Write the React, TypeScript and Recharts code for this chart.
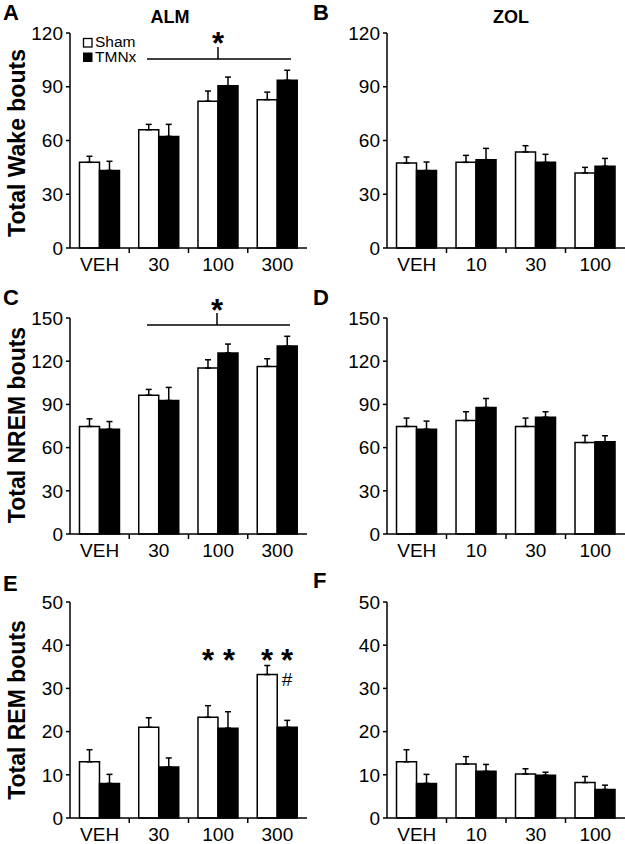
import React from "react";
import { BarChart, Bar, XAxis, YAxis, ErrorBar } from "recharts";

// dose categories
const almDoses = ["VEH", "30", "100", "300"];
const zolDoses = ["VEH", "10", "30", "100"];

// total wake bouts
const wakeAlmSham = [47.8, 66, 81.9, 82.8];
const wakeAlmShamErr = [3.4, 3, 5.7, 4.2];
const wakeAlmTmnx = [43.3, 62.3, 90.6, 93.6];
const wakeAlmTmnxErr = [5.1, 6.7, 4.8, 5.6];
const wakeZolSham = [47.4, 47.8, 53.6, 41.9];
const wakeZolShamErr = [3.4, 3.9, 3.5, 3.1];
const wakeZolTmnx = [43.2, 49.3, 47.8, 45.6];
const wakeZolTmnxErr = [4.8, 6.3, 4.5, 4.4];

// total NREM bouts
const nremAlmSham = [74.7, 96.4, 115.2, 116.4];
const nremAlmShamErr = [5.3, 4, 5.8, 5.3];
const nremAlmTmnx = [72.8, 92.7, 125.7, 130.5];
const nremAlmTmnxErr = [5.3, 9.1, 6.2, 6.8];
const nremZolSham = [74.7, 78.8, 74.7, 63.5];
const nremZolShamErr = [5.8, 6.1, 5.8, 4.9];
const nremZolTmnx = [72.8, 87.9, 81.1, 64];
const nremZolTmnxErr = [5.6, 6.2, 3.8, 4.2];

// total REM bouts
const remAlmSham = [13, 21, 23.3, 33.2];
const remAlmShamErr = [2.8, 2.2, 2.7, 2.1];
const remAlmTmnx = [8, 11.8, 20.8, 21];
const remAlmTmnxErr = [2.1, 2.1, 3.8, 1.6];
const remZolSham = [13, 12.5, 10.2, 8.2];
const remZolShamErr = [2.8, 1.7, 1.2, 1.4];
const remZolTmnx = [8, 10.8, 9.9, 6.6];
const remZolTmnxErr = [2.1, 1.6, 0.7, 1];

const wakeTicks = [0, 30, 60, 90, 120];
const nremTicks = [0, 30, 60, 90, 120, 150];
const remTicks = [0, 10, 20, 30, 40, 50];

const FONT = "'Liberation Sans', Arial, sans-serif";

function makeRows(cats: string[], sham: number[], shamErr: number[], tmnx: number[], tmnxErr: number[]) {
  return cats.map((dose, i) => ({
    dose,
    sham: sham[i],
    tmnx: tmnx[i],
    shamErr: [0, shamErr[i]],
    tmnxErr: [0, tmnxErr[i]],
  }));
}

const DoseTick = (props: any) => {
  const { x, y, payload, index } = props;
  const half = payload && payload.offset ? payload.offset : 29.6;
  return (
    <g>
      {index < 3 && (
        <line x1={x + half} x2={x + half} y1={y} y2={y + 5} stroke="#000" strokeWidth={1.5} />
      )}
      <text x={x} y={y + 8} dy="0.8em" textAnchor="middle" fontSize={19} fill="#000">
        {payload.value}
      </text>
    </g>
  );
};

interface PanelProps {
  left: number;
  top: number;
  width: number;
  height: number;
  marginTop: number;
  marginRight: number;
  yWidth: number;
  xHeight: number;
  max: number;
  ticks: number[];
  rows: any[];
}

function Panel({ left, top, width, height, marginTop, marginRight, yWidth, xHeight, max, ticks, rows }: PanelProps) {
  return (
    <div style={{ position: "absolute", left, top }}>
      <BarChart
        width={width}
        height={height}
        data={rows}
        margin={{ top: marginTop, right: marginRight, bottom: 0, left: 0 }}
        barGap={0}
        barCategoryGap="16%"
      >
        <XAxis
          dataKey="dose"
          height={xHeight}
          axisLine={{ stroke: "#000", strokeWidth: 1.5 }}
          tickLine={false}
          tickSize={0}
          tickMargin={0}
          tick={<DoseTick />}
          interval={0}
        />
        <YAxis
          width={yWidth}
          domain={[0, max]}
          ticks={ticks}
          interval={0}
          axisLine={{ stroke: "#000", strokeWidth: 1.5 }}
          tickLine={{ stroke: "#000", strokeWidth: 1.5 }}
          tickSize={4}
          tickMargin={3}
          tick={{ fontSize: 19, fill: "#000" }}
        />
        <Bar dataKey="sham" fill="#fff" stroke="#000" strokeWidth={1.5} isAnimationActive={false}>
          <ErrorBar dataKey="shamErr" width={3} stroke="#000" strokeWidth={1.5} direction="y" />
        </Bar>
        <Bar dataKey="tmnx" fill="#000" stroke="#000" strokeWidth={1.5} isAnimationActive={false}>
          <ErrorBar dataKey="tmnxErr" width={3} stroke="#000" strokeWidth={1.5} direction="y" />
        </Bar>
      </BarChart>
    </div>
  );
}

export default function App() {
  const leftCol = { left: 0, width: 310, marginRight: 3, yWidth: 70 };
  const rightCol = { left: 310, width: 315, marginRight: 0, yWidth: 77 };
  const row1 = { top: 0, height: 280, marginTop: 33, xHeight: 32 };
  const row2 = { top: 280, height: 284, marginTop: 38, xHeight: 30 };
  const row3 = { top: 560, height: 284, marginTop: 42, xHeight: 26 };

  return (
    <div
      style={{
        position: "absolute",
        left: 0,
        top: 0,
        width: 625,
        height: 844,
        background: "#fff",
        fontFamily: FONT,
        overflow: "hidden",
      }}
    >
      <Panel {...leftCol} {...row1} max={120} ticks={wakeTicks}
        rows={makeRows(almDoses, wakeAlmSham, wakeAlmShamErr, wakeAlmTmnx, wakeAlmTmnxErr)} />
      <Panel {...rightCol} {...row1} max={120} ticks={wakeTicks}
        rows={makeRows(zolDoses, wakeZolSham, wakeZolShamErr, wakeZolTmnx, wakeZolTmnxErr)} />
      <Panel {...leftCol} {...row2} max={150} ticks={nremTicks}
        rows={makeRows(almDoses, nremAlmSham, nremAlmShamErr, nremAlmTmnx, nremAlmTmnxErr)} />
      <Panel {...rightCol} {...row2} max={150} ticks={nremTicks}
        rows={makeRows(zolDoses, nremZolSham, nremZolShamErr, nremZolTmnx, nremZolTmnxErr)} />
      <Panel {...leftCol} {...row3} max={50} ticks={remTicks}
        rows={makeRows(almDoses, remAlmSham, remAlmShamErr, remAlmTmnx, remAlmTmnxErr)} />
      <Panel {...rightCol} {...row3} max={50} ticks={remTicks}
        rows={makeRows(zolDoses, remZolSham, remZolShamErr, remZolTmnx, remZolTmnxErr)} />

      <svg
        width={625}
        height={844}
        style={{ position: "absolute", left: 0, top: 0, pointerEvents: "none" }}
        fontFamily={FONT}
      >
        {/* panel letters */}
        <g fontSize={22} fontWeight="bold" fill="#000">
          <text x={3} y={20}>A</text>
          <text x={313} y={20}>B</text>
          <text x={3} y={305}>C</text>
          <text x={313} y={305}>D</text>
          <text x={3} y={591}>E</text>
          <text x={313} y={588}>F</text>
        </g>
        {/* titles */}
        <g fontSize={18} fontWeight="bold" fill="#000" textAnchor="middle">
          <text x={170} y={23}>ALM</text>
          <text x={511} y={23}>ZOL</text>
        </g>
        {/* y axis titles */}
        <g fontSize={23} fontWeight="bold" fill="#000" textAnchor="middle">
          <text transform="translate(25,143) rotate(-90)">Total Wake bouts</text>
          <text transform="translate(25,425) rotate(-90)">Total NREM bouts</text>
          <text transform="translate(25,710) rotate(-90)">Total REM bouts</text>
        </g>
        {/* legend */}
        <rect x={83.5} y={38.5} width={8.5} height={8.5} fill="#fff" stroke="#000" strokeWidth={1.3} />
        <rect x={83} y={52.5} width={9.5} height={9.5} fill="#000" />
        <g fontSize={15.5} fill="#000">
          <text x={95} y={47}>Sham</text>
          <text x={95} y={62}>TMNx</text>
        </g>
        {/* significance, panel A */}
        <line x1={147} x2={291} y1={59} y2={59} stroke="#000" strokeWidth={1.5} />
        <line x1={218} x2={218} y1={47} y2={59} stroke="#000" strokeWidth={1.5} />
        {/* significance, panel C */}
        <line x1={147} x2={290} y1={325} y2={325} stroke="#000" strokeWidth={1.5} />
        <line x1={217} x2={217} y1={313} y2={325} stroke="#000" strokeWidth={1.5} />
        <g fontSize={31} fontWeight="bold" fill="#000" textAnchor="middle">
          <text x={218} y={54}>*</text>
          <text x={217} y={321}>*</text>
          <text x={208} y={671}>*</text>
          <text x={229} y={671}>*</text>
          <text x={267} y={671}>*</text>
          <text x={287} y={671}>*</text>
        </g>
        <text x={287} y={686} fontSize={19} fill="#000" textAnchor="middle">#</text>
      </svg>
    </div>
  );
}
